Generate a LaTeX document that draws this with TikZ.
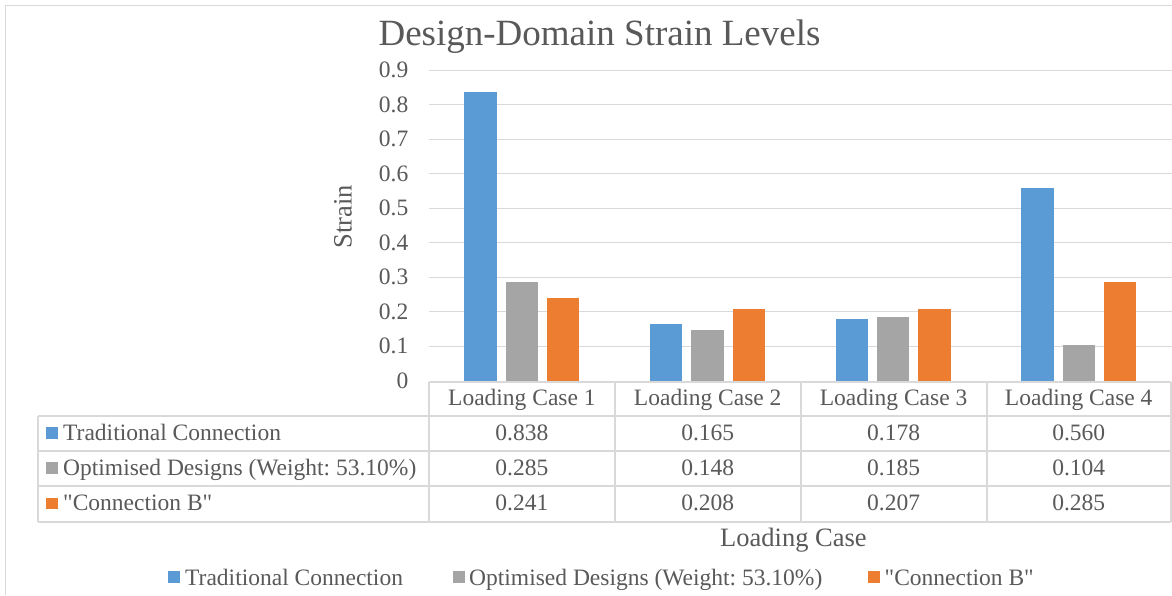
\documentclass[tikz,border=0pt]{standalone}
\usepackage{fontspec}
\setmainfont{Liberation Serif}
\newfontfamily\lib{Liberation Serif}
\frenchspacing
\definecolor{cblue}{HTML}{5B9BD5}
\definecolor{cgray}{HTML}{A5A5A5}
\definecolor{corange}{HTML}{ED7D31}
\definecolor{ctext}{HTML}{595959}
\definecolor{cgrid}{HTML}{D9D9D9}
\newcommand{\fnt}{\lib\fontsize{23.5}{28}\selectfont}
\begin{document}
\begin{tikzpicture}[x=1pt,y=-1pt,
  txt/.style={inner sep=0pt,text=ctext,font=\fnt},
  gridline/.style={draw=cgrid,line width=1.4pt},
  tabline/.style={draw=cgrid,line width=2pt},
  barb/.style={fill=cblue},
  barg/.style={fill=cgray},
  baro/.style={fill=corange}]
\useasboundingbox (0,0) rectangle (1172,595);
\fill[white] (0,0) rectangle (1172,595);
% chart border
\draw[cgrid,line width=1.4pt] (5.5,595) -- (5.5,5.5) -- (1172,5.5);
% title
\node[txt,font=\lib\fontsize{37}{42}\selectfont,anchor=base] (title) at (599.5,45) {Design-Domain Strain Levels};
% gridlines and tick labels
\foreach \v/\l in {1/0.1,2/0.2,3/0.3,4/0.4,5/0.5,6/0.6,7/0.7,8/0.8,9/0.9}{
  \draw[gridline] (429,{380.7-\v*34.49}) -- (1172,{380.7-\v*34.49});
  \node[txt,anchor=east] (tick\v) at (408.5,{380.7-\v*34.49}) {\l};
}
\node[txt,anchor=east] (tick0) at (408.5,380.7) {0};
% y axis title
\node[txt,font=\lib\fontsize{26.5}{30}\selectfont,rotate=90] (ytitle) at (343,216.5) {Strain};
% bars
\def\base{380.7}
\def\s{344.9}
\foreach \i/\a/\b/\c in {0/0.838/0.285/0.241,1/0.165/0.148/0.208,2/0.178/0.185/0.207,3/0.560/0.104/0.285}{
  \pgfmathsetmacro{\cx}{521.9+\i*185.6}
  \fill[barb] ({\cx-41.3-16.2},\base) rectangle ({\cx-41.3+16.2},{\base-\a*\s});
  \fill[barg] ({\cx-16.2},\base) rectangle ({\cx+16.2},{\base-\b*\s});
  \fill[baro] ({\cx+41.3-16.2},\base) rectangle ({\cx+41.3+16.2},{\base-\c*\s});
}
% data table
\draw[tabline] (429,381.7) -- (1171,381.7);
\foreach \yy in {415.5,450.5,485.8,521.5}{\draw[tabline] (38,\yy) -- (1171,\yy);}
\draw[tabline] (38,415.5) -- (38,521.5);
\foreach \xx in {429,614.8,800.7,986.5,1171}{\draw[tabline] (\xx,381.7) -- (\xx,521.5);}
% header
\node[txt,anchor=base] (h1) at (521.9,405.5) {Loading Case 1};
\node[txt,anchor=base] (h2) at (707.7,405.5) {Loading Case 2};
\node[txt,anchor=base] (h3) at (893.6,405.5) {Loading Case 3};
\node[txt,anchor=base] (h4) at (1078.7,405.5) {Loading Case 4};
% row labels
\fill[cblue] (46,427) rectangle (58,438.5);
\node[txt,anchor=base west] (r1) at (63,440) {Traditional Connection};
\fill[cgray] (46,462) rectangle (58,473.5);
\node[txt,anchor=base west] (r2) at (63,475) {Optimised Designs (Weight: 53.10\%)};
\fill[corange] (46,497.5) rectangle (58,509);
\node[txt,anchor=base west] (r3) at (63,510.5) {"Connection B"};
% values
\foreach \j/\yy/\a/\b/\c/\d in {1/440/0.838/0.165/0.178/0.560,2/475/0.285/0.148/0.185/0.104,3/510.5/0.241/0.208/0.207/0.285}{
  \node[txt,anchor=base] (v\j a) at (521.9,\yy) {\a};
  \node[txt,anchor=base] (v\j b) at (707.7,\yy) {\b};
  \node[txt,anchor=base] (v\j c) at (893.6,\yy) {\c};
  \node[txt,anchor=base] (v\j d) at (1078.7,\yy) {\d};
}
% x axis title
\node[txt,font=\lib\fontsize{26.5}{30}\selectfont,anchor=base] (xtitle) at (793.4,546.5) {Loading Case};
% legend
\fill[cblue] (168,570.5) rectangle (180,582.5);
\node[txt,anchor=base west] (l1) at (185,585) {Traditional Connection};
\fill[cgray] (452.5,570.5) rectangle (464.5,582.5);
\node[txt,anchor=base west] (l2) at (469,585) {Optimised Designs (Weight: 53.10\%)};
\fill[corange] (868,570.5) rectangle (880,582.5);
\node[txt,anchor=base west] (l3) at (884.5,585) {"Connection B"};
\end{tikzpicture}
\end{document}
